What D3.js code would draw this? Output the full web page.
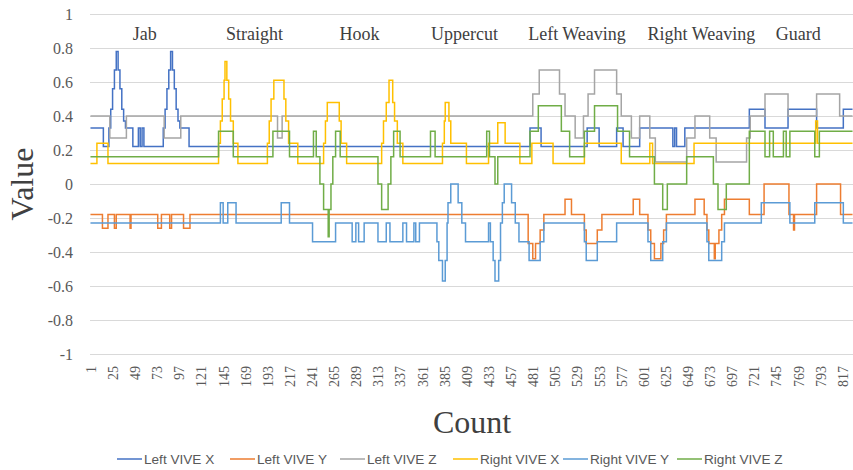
<!DOCTYPE html>
<html>
<head>
<meta charset="utf-8">
<script src="https://cdn.jsdelivr.net/npm/d3@7"></script>
<style>
  body { margin: 0; background: #fff; }
  svg { display: block; }
</style>
</head>
<body>
<div id="chart"></div>
<script>
// step breakpoints: [count, value]
const leftX = [[1,0.33],[15,0.22],[21,0.33],[23,0.44],[25,0.56],[27,0.67],[29,0.78],[31,0.67],[33,0.56],[35,0.44],[37,0.37],[39,0.33],[47,0.22],[53,0.33],[55,0.22],[57,0.33],[59,0.22],
  [80,0.33],[82,0.44],[84,0.56],[86,0.67],[88,0.78],[90,0.67],[92,0.56],[94,0.44],[96,0.37],[98,0.33],[108,0.22],
  [478,0.33],[490,0.22],[540,0.33],[553,0.22],[572,0.33],[579,0.22],[597,0.33],[633,0.22],[635,0.33],[637,0.22],[646,0.33],
  [716,0.44],[733,0.33],[758,0.44],[789,0.33],[818,0.44],[828,0.44]];

const leftY = [[1,-0.18],[14,-0.26],[20,-0.18],[27,-0.26],[29,-0.18],[44,-0.26],[45,-0.18],[74,-0.26],[78,-0.18],[87,-0.26],[89,-0.18],[102,-0.26],[109,-0.18],
  [476,-0.35],[481,-0.44],[484,-0.35],[489,-0.27],[493,-0.18],[516,-0.09],[523,-0.18],[537,-0.27],[539,-0.35],[551,-0.27],[556,-0.18],
  [590,-0.09],[597,-0.18],[606,-0.27],[609,-0.35],[613,-0.44],[620,-0.35],[623,-0.27],[626,-0.18],[657,-0.09],[667,-0.18],[670,-0.27],[672,-0.35],
  [678,-0.44],[679,-0.35],[683,-0.27],[686,-0.18],[689,-0.09],[716,-0.18],[732,0],[759,-0.18],[764,-0.27],[765,-0.18],[789,0],[815,-0.18],[828,-0.18]];

const leftZ = [[1,0.4],[22,0.27],[40,0.4],[81,0.27],[99,0.4],[204,0.27],[209,0.4],
  [481,0.53],[488,0.67],[510,0.53],[516,0.4],[527,0.27],[536,0.4],[541,0.53],[548,0.67],[572,0.53],[577,0.4],[588,0.27],[597,0.4],
  [608,0.27],[614,0.13],[648,0.27],[657,0.4],[673,0.27],[680,0.13],[713,0.27],[717,0.4],[733,0.53],[758,0.4],[789,0.53],[814,0.4],[828,0.4]];

const rightX = [[1,0.12],[8,0.24],[20,0.12],[140,0.24],[142,0.37],[144,0.5],[146,0.61],[147,0.72],[149,0.61],[151,0.5],[153,0.37],[156,0.24],[161,0.12],
  [193,0.24],[195,0.37],[197,0.5],[200,0.61],[211,0.5],[213,0.37],[216,0.24],[226,0.12],
  [254,0.24],[256,0.37],[258,0.48],[271,0.37],[273,0.24],[279,0.12],
  [317,0.24],[319,0.37],[322,0.48],[325,0.61],[329,0.48],[331,0.37],[334,0.24],[340,0.12],
  [383,0.24],[385,0.37],[386,0.48],[390,0.37],[392,0.24],[409,0.12],[433,0.24],[443,0.36],[451,0.24],[467,0.12],
  [480,0.24],[503,0.12],[537,0.24],[577,0.12],[608,0.24],[611,0.12],[656,0.24],[788,0.37],[790,0.24],[828,0.24]];

const rightY = [[1,-0.23],[142,-0.11],[145,-0.23],[150,-0.11],[159,-0.23],[208,-0.11],[217,-0.23],
  [242,-0.34],[267,-0.23],[285,-0.34],[289,-0.23],[292,-0.34],[298,-0.23],[313,-0.34],[322,-0.23],[326,-0.34],[340,-0.23],[344,-0.34],[352,-0.23],[354,-0.34],[358,-0.23],
  [377,-0.34],[379,-0.45],[383,-0.57],[386,-0.45],[388,-0.23],[389,-0.11],[392,0],[400,-0.11],[404,-0.23],[408,-0.34],
  [433,-0.23],[435,-0.34],[438,-0.45],[440,-0.57],[444,-0.45],[446,-0.23],[448,-0.11],[450,0],[458,-0.11],[462,-0.23],[466,-0.34],
  [477,-0.45],[489,-0.34],[493,-0.23],[537,-0.34],[539,-0.45],[551,-0.34],[572,-0.23],[606,-0.34],[609,-0.45],[622,-0.34],[626,-0.23],
  [670,-0.34],[672,-0.45],[686,-0.34],[689,-0.23],[729,-0.11],[760,-0.23],[787,-0.11],[818,-0.23],[828,-0.23]];

const rightZ = [[1,0.16],[140,0.31],[156,0.16],[199,0.31],[217,0.16],[243,0.31],[246,0.16],
  [250,0],[254,-0.15],[259,-0.31],[260,-0.15],[262,0],[264,0.16],[267,0.31],[272,0.16],
  [313,0],[317,-0.15],[324,0],[327,0.16],[330,0.31],[337,0.16],[370,0.31],[375,0.16],[431,0.31],[434,0.16],[440,0],[443,0.16],
  [478,0.31],[487,0.46],[512,0.31],[521,0.16],[537,0.31],[548,0.46],[573,0.31],[586,0.16],[613,0],[622,-0.15],[627,0],[648,0.16],
  [677,0],[682,-0.15],[691,0],[716,0.31],[733,0.16],[738,0.31],[742,0.16],[753,0.31],[756,0.16],[760,0.31],[787,0.16],[792,0.31],[828,0.31]];

const seriesNames = ["Left VIVE X", "Left VIVE Y", "Left VIVE Z", "Right VIVE X", "Right VIVE Y", "Right VIVE Z"];
const colors = ["#4472C4", "#ED7D31", "#A5A5A5", "#FFC000", "#5B9BD5", "#70AD47"];

const motions = ["Jab", "Straight", "Hook", "Uppercut", "Left Weaving", "Right Weaving", "Guard"];
const motionCounts = [60, 179, 293, 407, 529, 664, 769];

const yTicks = [1, 0.8, 0.6, 0.4, 0.2, 0, -0.2, -0.4, -0.6, -0.8, -1];
const yTickLabels = ["1", "0.8", "0.6", "0.4", "0.2", "0", "-0.2", "-0.4", "-0.6", "-0.8", "-1"];
const xTicks = d3.range(1, 818, 24);
const nCount = 828;

// -----------------------------
// SVG SETUP
// -----------------------------
const width = 853, height = 470;
const plotLeft = 90, plotRight = 853, plotTop = 14, plotBottom = 354;
const serif = "'Liberation Serif', 'Times New Roman', serif";

const svg = d3.select("#chart").append("svg")
    .attr("width", width)
    .attr("height", height);

svg.append("rect").attr("width", width).attr("height", height).attr("fill", "#fff");

const x = d3.scaleLinear().domain([0.5, nCount + 0.5]).range([plotLeft, plotRight]);
const y = d3.scaleLinear().domain([-1, 1]).range([plotBottom, plotTop]);

// gridlines
svg.append("g").selectAll("line")
    .data(yTicks)
    .enter().append("line")
    .attr("x1", plotLeft).attr("x2", plotRight)
    .attr("y1", d => y(d)).attr("y2", d => y(d))
    .attr("stroke", "#d9d9d9")
    .attr("stroke-width", 1)
    .attr("shape-rendering", "crispEdges");

// y labels
svg.append("g").selectAll("text")
    .data(yTicks)
    .enter().append("text")
    .attr("x", 73)
    .attr("y", d => y(d))
    .attr("dy", "0.35em")
    .attr("text-anchor", "end")
    .attr("font-family", serif)
    .attr("font-size", 16)
    .attr("fill", "#595959")
    .text((d, i) => yTickLabels[i]);

// x axis labels, rotated
const xAxis = svg.append("g")
    .attr("transform", `translate(0,${plotBottom + 4})`)
    .call(d3.axisBottom(x).tickValues(xTicks).tickSize(0).tickFormat(d3.format("d")));
xAxis.select(".domain").remove();
xAxis.selectAll("text")
    .attr("transform", "rotate(-90)")
    .attr("x", -8)
    .attr("y", 0)
    .attr("dy", "0.35em")
    .attr("text-anchor", "end")
    .attr("font-family", serif)
    .attr("font-size", 14)
    .attr("fill", "#595959");

// axis titles
svg.append("text")
    .attr("x", 472).attr("y", 433)
    .attr("text-anchor", "middle")
    .attr("font-family", serif)
    .attr("font-size", 32)
    .attr("fill", "#404040")
    .text("Count");

svg.append("text")
    .attr("transform", "translate(33,184) rotate(-90)")
    .attr("text-anchor", "middle")
    .attr("font-family", serif)
    .attr("font-size", 32)
    .attr("fill", "#404040")
    .text("Value");

// -----------------------------
// LINES
// -----------------------------
const line = d3.line()
    .x(d => x(d[0]))
    .y(d => y(d[1]))
    .curve(d3.curveStepAfter);

const allSeries = [leftX, leftY, leftZ, rightX, rightY, rightZ];

svg.append("g").selectAll("path")
    .data(allSeries)
    .enter().append("path")
    .attr("fill", "none")
    .attr("stroke", (d, i) => colors[i])
    .attr("stroke-width", 1.5)
    .attr("d", d => line(d));

// motion labels on top
svg.append("g").selectAll("text")
    .data(motions)
    .enter().append("text")
    .attr("x", (d, i) => x(motionCounts[i]))
    .attr("y", 40)
    .attr("text-anchor", "middle")
    .attr("font-family", serif)
    .attr("font-size", 18)
    .attr("fill", "#404040")
    .text(d => d);

// -----------------------------
// LEGEND
// -----------------------------
const legendX = [117, 230, 340, 453, 563, 677];
const legend = svg.append("g").selectAll("g")
    .data(seriesNames)
    .enter().append("g")
    .attr("transform", (d, i) => `translate(${legendX[i]},459)`);

legend.append("line")
    .attr("x1", 0).attr("x2", 25)
    .attr("stroke", (d, i) => colors[i])
    .attr("stroke-width", 1.5);

legend.append("text")
    .attr("x", 27)
    .attr("dy", "0.35em")
    .attr("font-family", "'Liberation Sans', Arial, sans-serif")
    .attr("font-size", 13.6)
    .attr("fill", "#595959")
    .text(d => d);
</script>
</body>
</html>
